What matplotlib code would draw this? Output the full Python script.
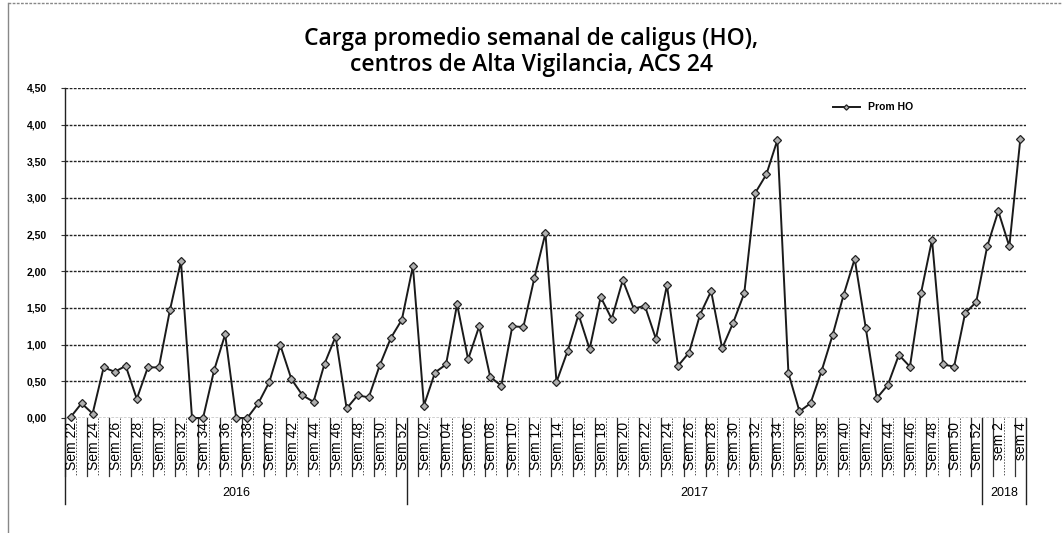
import matplotlib
matplotlib.use("Agg")
import matplotlib.pyplot as plt
from matplotlib.lines import Line2D

# weekly average caligus load (HO), Sem 22 2016 .. sem 4 2018
values_2016 = [0.01, 0.20, 0.06, 0.69, 0.63, 0.71, 0.26, 0.69, 0.69, 1.47,
               2.14, 0.00, 0.00, 0.65, 1.14, 0.00, 0.00, 0.20, 0.49, 0.99,
               0.53, 0.31, 0.22, 0.74, 1.11, 0.13, 0.31, 0.28, 0.72, 1.09,
               1.34]
values_2017 = [2.07, 0.17, 0.62, 0.73, 1.55, 0.80, 1.25, 0.56, 0.44, 1.25,
               1.24, 1.91, 2.52, 0.49, 0.91, 1.41, 0.94, 1.65, 1.35, 1.88,
               1.49, 1.53, 1.08, 1.81, 0.71, 0.89, 1.41, 1.73, 0.95, 1.30,
               1.70, 3.07, 3.32, 3.79, 0.61, 0.09, 0.20, 0.64, 1.13, 1.68,
               2.17, 1.23, 0.27, 0.45, 0.86, 0.70, 1.70, 2.43, 0.73, 0.70,
               1.43, 1.58]
values_2018 = [2.34, 2.82, 2.34, 3.81]

weeks_2016 = [f"Sem {w}" for w in range(22, 53)]
weeks_2017 = [f"Sem {w:02d}" for w in range(1, 53)]
weeks_2018 = [f"sem {w}" for w in range(1, 5)]
years = ["2016", "2017", "2018"]

values = values_2016 + values_2017 + values_2018
weeks = weeks_2016 + weeks_2017 + weeks_2018
x = list(range(len(values)))

plt.rcParams['font.family'] = ['Liberation Sans', 'DejaVu Sans']

fig = plt.figure(figsize=(10.62, 5.33), dpi=100)
ax = fig.add_axes([0.0612, 0.2158, 0.9048, 0.6192])

# horizontal gridlines
for g in [0, 0.5, 1.0, 1.5, 2.0, 2.5, 3.0, 3.5, 4.0, 4.5]:
    ax.axhline(g, color='#222222', lw=1.0, ls=(0, (2, 1)), zorder=1)

ax.plot(x, values, color='#1a1a1a', lw=1.4, marker='D', markersize=4.5,
        markerfacecolor='#b0b0b0', markeredgecolor='#222222',
        markeredgewidth=0.9, label='Prom HO', zorder=3, clip_on=False)

ax.set_xlim(-0.5, len(values) - 0.5)
ax.set_ylim(0, 4.5)
ax.set_yticks([0, 0.5, 1.0, 1.5, 2.0, 2.5, 3.0, 3.5, 4.0, 4.5])
ax.set_yticklabels([f"{v:.2f}".replace('.', ',') for v in ax.get_yticks()],
                   fontsize=7.5, fontweight='bold')
ax.tick_params(axis='y', length=3, pad=10, color='#333333')
ax.set_xticks([])
for s in ['top', 'right', 'bottom']:
    ax.spines[s].set_visible(False)
ax.spines['left'].set_color('#222222')
ax.spines['left'].set_linewidth(1.0)

# week labels (every other week) with separators
trans = ax.get_xaxis_transform()
for i, w in enumerate(weeks):
    if i % 2 == 0:
        ax.text(i + 0.1, -0.012, w, rotation=90, ha='center', va='top',
                fontsize=10, transform=trans, clip_on=False)
        ax.plot([i - 0.5, i - 0.5], [0, -0.175], color='#333333', lw=0.9,
                transform=trans, clip_on=False)
        ax.plot([i + 0.5, i + 0.5], [0, -0.175], color='#555555', lw=0.7,
                ls=(0, (1.5, 1.5)), transform=trans, clip_on=False)

# year groups
bounds = [0, len(weeks_2016), len(weeks_2016) + len(weeks_2017), len(weeks)]
for b in bounds:
    ax.plot([b - 0.5, b - 0.5], [0, -0.26], color='#222222', lw=1.0,
            transform=trans, clip_on=False)
for k, yr in enumerate(years):
    mid = (bounds[k] + bounds[k + 1] - 1) / 2
    ax.text(mid, -0.228, yr, ha='center', va='center', fontsize=9,
            transform=trans, clip_on=False)

ax.legend(loc='upper left', bbox_to_anchor=(0.79, 0.985), frameon=False,
          handlelength=2.5, markerscale=0.6, prop={'weight': 'bold', 'size': 7.5})

fig.text(0.5, 0.903, "Carga promedio semanal de caligus (HO),\ncentros de Alta Vigilancia, ACS 24",
         ha='center', va='center', fontsize=16.5, fontweight='semibold',
         family=['Open Sans', 'DejaVu Sans'], linespacing=1.1)

# chart area border
fig.add_artist(Line2D([0.0075, 0.0075], [0, 0.995], color='#888888', lw=1.0))
fig.add_artist(Line2D([0.0075, 1], [0.995, 0.995], color='#888888', lw=1.0, ls=(0, (2, 1))))

fig.savefig('out.png', dpi=100)
